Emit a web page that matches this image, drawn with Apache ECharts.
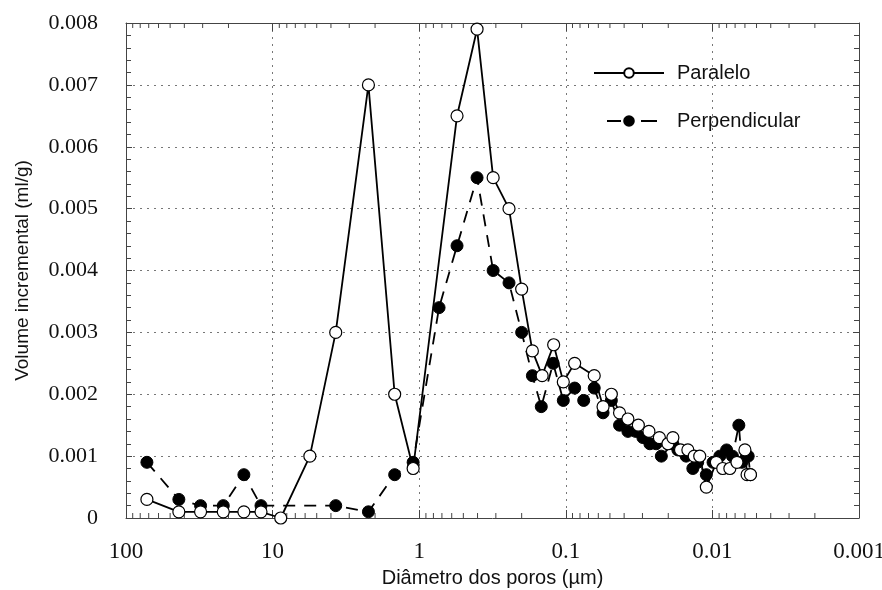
<!DOCTYPE html>
<html><head><meta charset="utf-8">
<script src="https://cdn.jsdelivr.net/npm/echarts@6/dist/echarts.min.js"></script>
<style>html,body{margin:0;padding:0;background:#fff}#c{width:882px;height:590px}</style>
</head><body><div id="c"></div>
<script>
// Paralelo (open circles)
const dParalelo = [72, 43.6, 31, 21.7, 15.7, 12, 8.8, 5.57, 3.71, 2.22, 1.47, 1.10, 0.552, 0.403, 0.313, 0.244, 0.200, 0.169, 0.145, 0.121, 0.104, 0.087, 0.064, 0.0557, 0.0489, 0.043, 0.0377, 0.032, 0.0271, 0.023, 0.0201, 0.0186, 0.0165, 0.0147, 0.0133, 0.0122, 0.011, 0.0094, 0.0085, 0.0076, 0.0068, 0.006, 0.0058, 0.0055];
const vParalelo = [0.0003, 0.0001, 0.0001, 0.0001, 0.0001, 0.0001, 0, 0.001, 0.003, 0.007, 0.002, 0.0008, 0.0065, 0.0079, 0.0055, 0.005, 0.0037, 0.0027, 0.0023, 0.0028, 0.0022, 0.0025, 0.0023, 0.0018, 0.0020, 0.0017, 0.0016, 0.0015, 0.0014, 0.0013, 0.0012, 0.0013, 0.0011, 0.0011, 0.0010, 0.0010, 0.0005, 0.0009, 0.0008, 0.0008, 0.0009, 0.0011, 0.0007, 0.0007];
// Perpendicular (filled circles)
const dPerp = [72, 43.6, 31, 21.7, 15.7, 12, 3.71, 2.22, 1.47, 1.10, 0.732, 0.552, 0.403, 0.313, 0.244, 0.200, 0.169, 0.147, 0.122, 0.104, 0.087, 0.0755, 0.064, 0.0557, 0.0489, 0.043, 0.0377, 0.0334, 0.0298, 0.0267, 0.0242, 0.0223, 0.0186, 0.0172, 0.0151, 0.0136, 0.0126, 0.011, 0.0099, 0.0089, 0.0080, 0.0073, 0.0066, 0.0063, 0.0057, 0.0055];
const vPerp = [0.0009, 0.0003, 0.0002, 0.0002, 0.0007, 0.0002, 0.0002, 0.0001, 0.0007, 0.0009, 0.0034, 0.0044, 0.0055, 0.0040, 0.0038, 0.0030, 0.0023, 0.0018, 0.0025, 0.0019, 0.0021, 0.0019, 0.0021, 0.0017, 0.0019, 0.0015, 0.0014, 0.0014, 0.0013, 0.0012, 0.0012, 0.0010, 0.0012, 0.0011, 0.0010, 0.0008, 0.0009, 0.0007, 0.0009, 0.0010, 0.0011, 0.0010, 0.0015, 0.0009, 0.0010, 0.0007];
const xTickLabels = {"100":"100","10":"10","1":"1","0.1":"0.1","0.01":"0.01","0.001":"0.001"};
const yTicks = ["0","0.001","0.002","0.003","0.004","0.005","0.006","0.007","0.008"];
const seriesNames = ["Paralelo", "Perpendicular"];
// log minor tick positions (multipliers within each decade)
const minorMultipliers = [2, 3, 4, 5, 6, 7, 8, 9];
const minorDecades = [10, 1, 0.1, 0.01, 0.001];

const zip = (a, b) => a.map((x, i) => [x, b[i]]);
const minorTicks = [];
minorDecades.forEach(d => minorMultipliers.forEach(m => minorTicks.push([+(m * d).toPrecision(6), 0])));

const chart = echarts.init(document.getElementById('c'), null, {renderer: 'canvas'});
const serif = "'Liberation Serif', 'Times New Roman', serif";
const sans = "'Liberation Sans', Arial, sans-serif";
function xfmt(v){ const k = String(+v.toPrecision(6)); return xTickLabels[k] !== undefined ? xTickLabels[k] : ''; }
function yfmt(v){ const i = Math.round(v / 0.001); return yTicks[i] !== undefined ? yTicks[i] : ''; }
const axisColor = '#444';
const gridLine = {show: true, lineStyle: {color: '#777', type: [2, 5], width: 1}};
const baseX = {
  type: 'log', logBase: 10, min: 0.001, max: 100, inverse: true,
  axisLine: {show: true, onZero: false, lineStyle: {color: axisColor, width: 1}},
  axisTick: {show: true, inside: true, length: 8, lineStyle: {color: axisColor}},
  minorTick: {show: false},
};
const baseY = {
  type: 'value', min: 0, max: 0.008, interval: 0.001,
  axisLine: {show: true, lineStyle: {color: axisColor, width: 1}},
  axisTick: {show: true, inside: true, length: 6, lineStyle: {color: axisColor}},
  minorTick: {show: true, splitNumber: 5, length: 5, lineStyle: {color: axisColor}},
};
chart.setOption({
  animation: false,
  backgroundColor: '#fff',
  grid: {left: 126, right: 23, top: 23, bottom: 72, containLabel: false, outerBoundsMode: 'none'},
  legend: {
    orient: 'vertical', left: 593, top: 63, padding: 0, itemGap: 28, itemWidth: 70, itemHeight: 12,
    textStyle: {fontFamily: sans, fontSize: 20, color: '#111', padding: [0, 0, 0, 8]},
    data: [
      {name: seriesNames[0]},
      {name: seriesNames[1], lineStyle: {type: [14, 20, 16, 20], dashOffset: 57}}
    ]
  },
  xAxis: [
    Object.assign({}, baseX, {
      position: 'bottom',
      axisLabel: {formatter: xfmt, fontFamily: serif, fontSize: 23, color: '#111', margin: 22},
      splitLine: gridLine,
      name: 'Diâmetro dos poros (µm)', nameLocation: 'middle', nameGap: 50,
      nameTextStyle: {fontFamily: sans, fontSize: 20, color: '#111'}
    }),
    Object.assign({}, baseX, {position: 'top', axisLabel: {show: false}, splitLine: {show: false}})
  ],
  yAxis: [
    Object.assign({}, baseY, {
      position: 'left',
      axisLabel: {formatter: yfmt, fontFamily: serif, fontSize: 22, color: '#111', margin: 28},
      splitLine: gridLine,
      name: 'Volume incremental (ml/g)', nameLocation: 'middle', nameGap: 94,
      nameTextStyle: {fontFamily: sans, fontSize: 19, color: '#111'}
    }),
    Object.assign({}, baseY, {position: 'right', axisLabel: {show: false}, splitLine: {show: false}})
  ],
  series: [
    {
      name: seriesNames[0], type: 'line', data: zip(dParalelo, vParalelo),
      symbol: 'circle', symbolSize: 12, showAllSymbol: true,
      lineStyle: {color: '#000', width: 1.8},
      itemStyle: {color: '#fff', borderColor: '#000', borderWidth: 1.2},
      z: 3
    },
    {
      name: seriesNames[1], type: 'line', data: zip(dPerp, vPerp),
      symbol: 'circle', symbolSize: 12, showAllSymbol: true,
      lineStyle: {color: '#000', width: 1.8, type: [12, 9]},
      itemStyle: {color: '#000', borderColor: '#000', borderWidth: 1},
      z: 2
    },
    {
      name: 'minorTicks', type: 'custom', data: minorTicks, silent: true, z: 1,
      renderItem: function (params, api) {
        const x = api.value(0);
        const b = api.coord([x, 0]);
        const t = api.coord([x, 0.008]);
        return {type: 'group', children: [
          {type: 'line', shape: {x1: b[0], y1: b[1], x2: b[0], y2: b[1] - 5}, style: {stroke: axisColor, lineWidth: 1}},
          {type: 'line', shape: {x1: t[0], y1: t[1], x2: t[0], y2: t[1] + 5}, style: {stroke: axisColor, lineWidth: 1}}
        ]};
      }
    }
  ]
});
</script></body></html>
